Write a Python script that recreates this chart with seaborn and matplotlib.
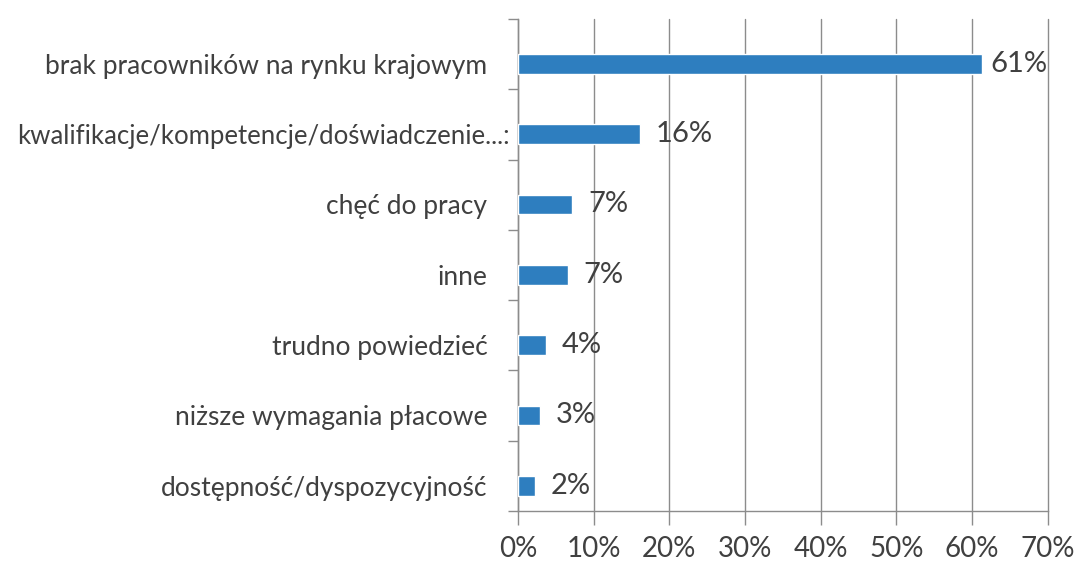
import matplotlib
matplotlib.use("Agg")
import matplotlib.pyplot as plt
import seaborn as sns
import pandas as pd
from matplotlib.ticker import FixedLocator, PercentFormatter

categories = [
    "brak pracowników na rynku krajowym",
    "kwalifikacje/kompetencje/doświadczenie...:",
    "chęć do pracy",
    "inne",
    "trudno powiedzieć",
    "niższe wymagania płacowe",
    "dostępność/dyspozycyjność",
]
values = [61.3, 16.1, 7.2, 6.6, 3.7, 2.9, 2.2]
labels = ["61%", "16%", "7%", "7%", "4%", "3%", "2%"]
x_ticks = [0, 10, 20, 30, 40, 50, 60, 70]

df = pd.DataFrame({"kategoria": categories, "wartosc": values})

sns.set_style("white")
plt.rcParams["font.family"] = ["Lato", "DejaVu Sans"]
text_color = "#404040"
bar_color = "#2E7EBF"
grid_color = "#8C8C8C"

fig = plt.figure(figsize=(10.79, 5.63), dpi=100)
ax = fig.add_axes([0.48, 0.0924, 0.491, 0.874])

sns.barplot(data=df, x="wartosc", y="kategoria", orient="h",
            color=bar_color, width=0.28, saturation=1, ax=ax, zorder=3)

# bars sit a little below the middle of their cells, as in the original
shift = 0.14
ax.set_xlim(0, 70)
ax.set_ylim(len(categories) - 0.5 - shift, -0.5 - shift)
ax.set_xticks(x_ticks)
ax.xaxis.set_major_formatter(PercentFormatter(decimals=0))
ax.grid(axis="x", color=grid_color, linewidth=1, zorder=0)
ax.grid(axis="y", visible=False)
for gl in ax.get_xgridlines():
    gl.set_clip_on(False)

for s in ["top", "right"]:
    ax.spines[s].set_visible(False)
for s in ["left", "bottom"]:
    ax.spines[s].set_color(grid_color)
    ax.spines[s].set_linewidth(1)

ax.tick_params(axis="x", direction="out", length=10, width=1, color=grid_color,
               labelsize=20, labelcolor=text_color, pad=8, bottom=True)
ax.tick_params(axis="y", which="major", length=0, labelsize=19,
               labelcolor=text_color, pad=22)
ax.yaxis.set_minor_locator(
    FixedLocator([i - 0.5 - shift for i in range(len(categories) + 1)]))
ax.tick_params(axis="y", which="minor", direction="out", length=7, width=1,
               color=grid_color, left=True)

# the long label runs closer to the axis in the original
long_tick = ax.yaxis.get_major_ticks()[1]
long_tick.set_pad(6)
long_tick.label1.set_fontsize(18.5)

ax.set_xlabel("")
ax.set_ylabel("")

for i, (v, lab) in enumerate(zip(values, labels)):
    off = 1.1 if v > 50 else 2.1
    ax.text(v + off, i, lab, va="center", ha="left", fontsize=21, color=text_color)

fig.savefig("out.png", dpi=100)
